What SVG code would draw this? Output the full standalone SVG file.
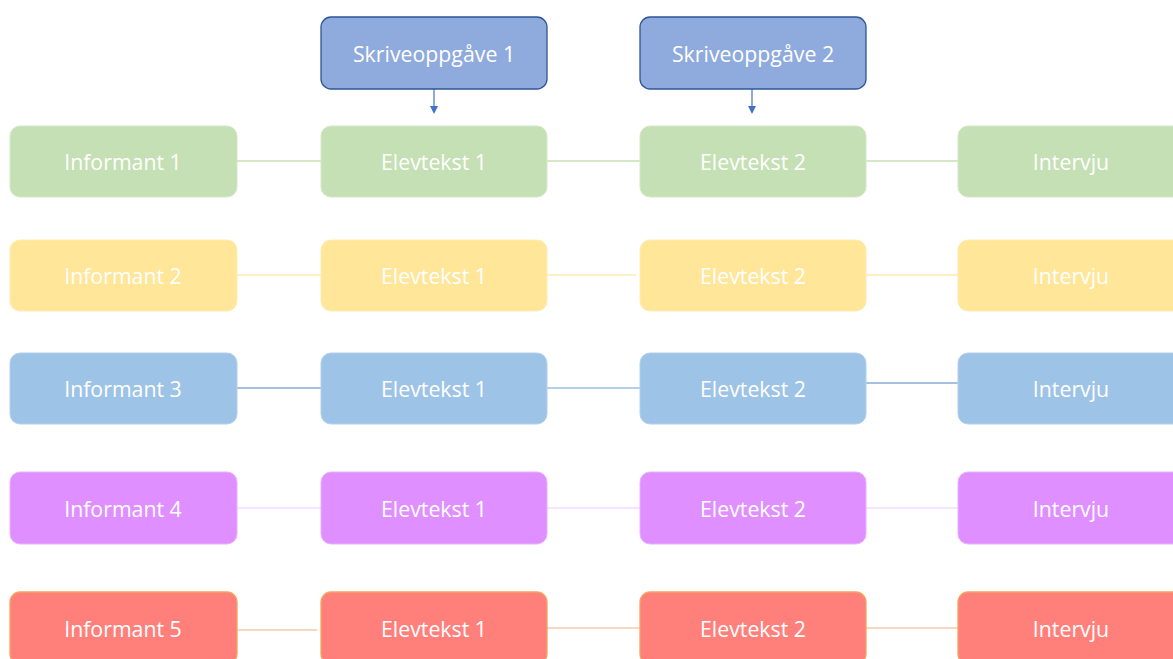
<svg xmlns="http://www.w3.org/2000/svg" width="1173" height="659" viewBox="0 0 1173 659">
<defs>
<marker id="arr" markerWidth="8" markerHeight="8" refX="4" refY="4" orient="auto" markerUnits="userSpaceOnUse">
<path d="M0,0 L8,4 L0,8 z" fill="#4472c4"/>
</marker>
<style>
text{font-family:"Open Sans","Noto Sans",sans-serif;font-size:21.3px;fill:#ffffff;text-anchor:middle;dominant-baseline:central}
.top rect{fill:#8faadc;stroke:#2f5597;stroke-width:1.3}
.g rect{fill:#c5e0b4;stroke:#d5e8c8;stroke-width:1}
.y rect{fill:#ffe699;stroke:#ffecb0;stroke-width:1}
.b rect{fill:#9dc3e6;stroke:#b4d0ec;stroke-width:1}
.p rect{fill:#df8fff;stroke:#e9b0ff;stroke-width:1}
.r rect{fill:#ff7f7b;stroke:#f4a460;stroke-width:1.3}
.conn line{stroke-width:1.2}
</style>
</defs>
<g id="connectors" class="conn">
<line x1="434" y1="89" x2="434" y2="110" stroke="#4472c4" marker-end="url(#arr)"/>
<line x1="752" y1="89" x2="752" y2="110" stroke="#4472c4" marker-end="url(#arr)"/>
<line x1="237" y1="161" x2="321" y2="161" stroke="#a9d18e"/>
<line x1="547" y1="161" x2="640" y2="161" stroke="#a9d18e"/>
<line x1="866" y1="161" x2="958" y2="161" stroke="#a9d18e"/>
<line x1="237" y1="275" x2="321" y2="275" stroke="#ffe08a"/>
<line x1="545" y1="275" x2="636" y2="275" stroke="#ffe08a"/>
<line x1="866" y1="275" x2="958" y2="275" stroke="#ffe08a"/>
<line x1="234" y1="388" x2="321" y2="388" stroke="#4f81c7"/>
<line x1="547" y1="388" x2="640" y2="388" stroke="#6a9bd8"/>
<line x1="866" y1="383" x2="958" y2="383" stroke="#4f81c7"/>
<line x1="237" y1="508" x2="321" y2="508" stroke="#f0c8ff"/>
<line x1="547" y1="508" x2="640" y2="508" stroke="#f0c8ff"/>
<line x1="866" y1="508" x2="958" y2="508" stroke="#f0c8ff"/>
<line x1="225" y1="630" x2="317" y2="630" stroke="#f4b183"/>
<line x1="547" y1="628" x2="640" y2="628" stroke="#f4b183"/>
<line x1="866" y1="628" x2="958" y2="628" stroke="#f4b183"/>
</g>
<g id="skriveoppgave1" class="top"><rect x="321" y="17" width="226" height="72" rx="10"/><text x="434" y="53">Skriveoppgåve 1</text></g>
<g id="skriveoppgave2" class="top"><rect x="640" y="17" width="226" height="72" rx="10"/><text x="753" y="53">Skriveoppgåve 2</text></g>

<g id="informant1" class="g"><rect x="10" y="126" width="227" height="71" rx="10"/><text x="123" y="161">Informant 1</text></g>
<g id="elevtekst1-1" class="g"><rect x="321" y="126" width="226" height="71" rx="10"/><text x="434" y="161">Elevtekst 1</text></g>
<g id="elevtekst2-1" class="g"><rect x="640" y="126" width="226" height="71" rx="10"/><text x="753" y="161">Elevtekst 2</text></g>
<g id="intervju1" class="g"><rect x="958" y="126" width="226" height="71" rx="10"/><text x="1071" y="161">Intervju</text></g>

<g id="informant2" class="y"><rect x="10" y="240" width="227" height="71" rx="10"/><text x="123" y="275">Informant 2</text></g>
<g id="elevtekst1-2" class="y"><rect x="321" y="240" width="226" height="71" rx="10"/><text x="434" y="275">Elevtekst 1</text></g>
<g id="elevtekst2-2" class="y"><rect x="640" y="240" width="226" height="71" rx="10"/><text x="753" y="275">Elevtekst 2</text></g>
<g id="intervju2" class="y"><rect x="958" y="240" width="226" height="71" rx="10"/><text x="1071" y="275">Intervju</text></g>

<g id="informant3" class="b"><rect x="10" y="353" width="227" height="71" rx="10"/><text x="123" y="388">Informant 3</text></g>
<g id="elevtekst1-3" class="b"><rect x="321" y="353" width="226" height="71" rx="10"/><text x="434" y="388">Elevtekst 1</text></g>
<g id="elevtekst2-3" class="b"><rect x="640" y="353" width="226" height="71" rx="10"/><text x="753" y="388">Elevtekst 2</text></g>
<g id="intervju3" class="b"><rect x="958" y="353" width="226" height="71" rx="10"/><text x="1071" y="388">Intervju</text></g>

<g id="informant4" class="p"><rect x="10" y="472" width="227" height="72" rx="10"/><text x="123" y="508">Informant 4</text></g>
<g id="elevtekst1-4" class="p"><rect x="321" y="472" width="226" height="72" rx="10"/><text x="434" y="508">Elevtekst 1</text></g>
<g id="elevtekst2-4" class="p"><rect x="640" y="472" width="226" height="72" rx="10"/><text x="753" y="508">Elevtekst 2</text></g>
<g id="intervju4" class="p"><rect x="958" y="472" width="226" height="72" rx="10"/><text x="1071" y="508">Intervju</text></g>

<g id="informant5" class="r"><rect x="10" y="592" width="227" height="72" rx="10"/><text x="123" y="628">Informant 5</text></g>
<g id="elevtekst1-5" class="r"><rect x="321" y="592" width="226" height="72" rx="10"/><text x="434" y="628">Elevtekst 1</text></g>
<g id="elevtekst2-5" class="r"><rect x="640" y="592" width="226" height="72" rx="10"/><text x="753" y="628">Elevtekst 2</text></g>
<g id="intervju5" class="r"><rect x="958" y="592" width="226" height="72" rx="10"/><text x="1071" y="628">Intervju</text></g>
</svg>
